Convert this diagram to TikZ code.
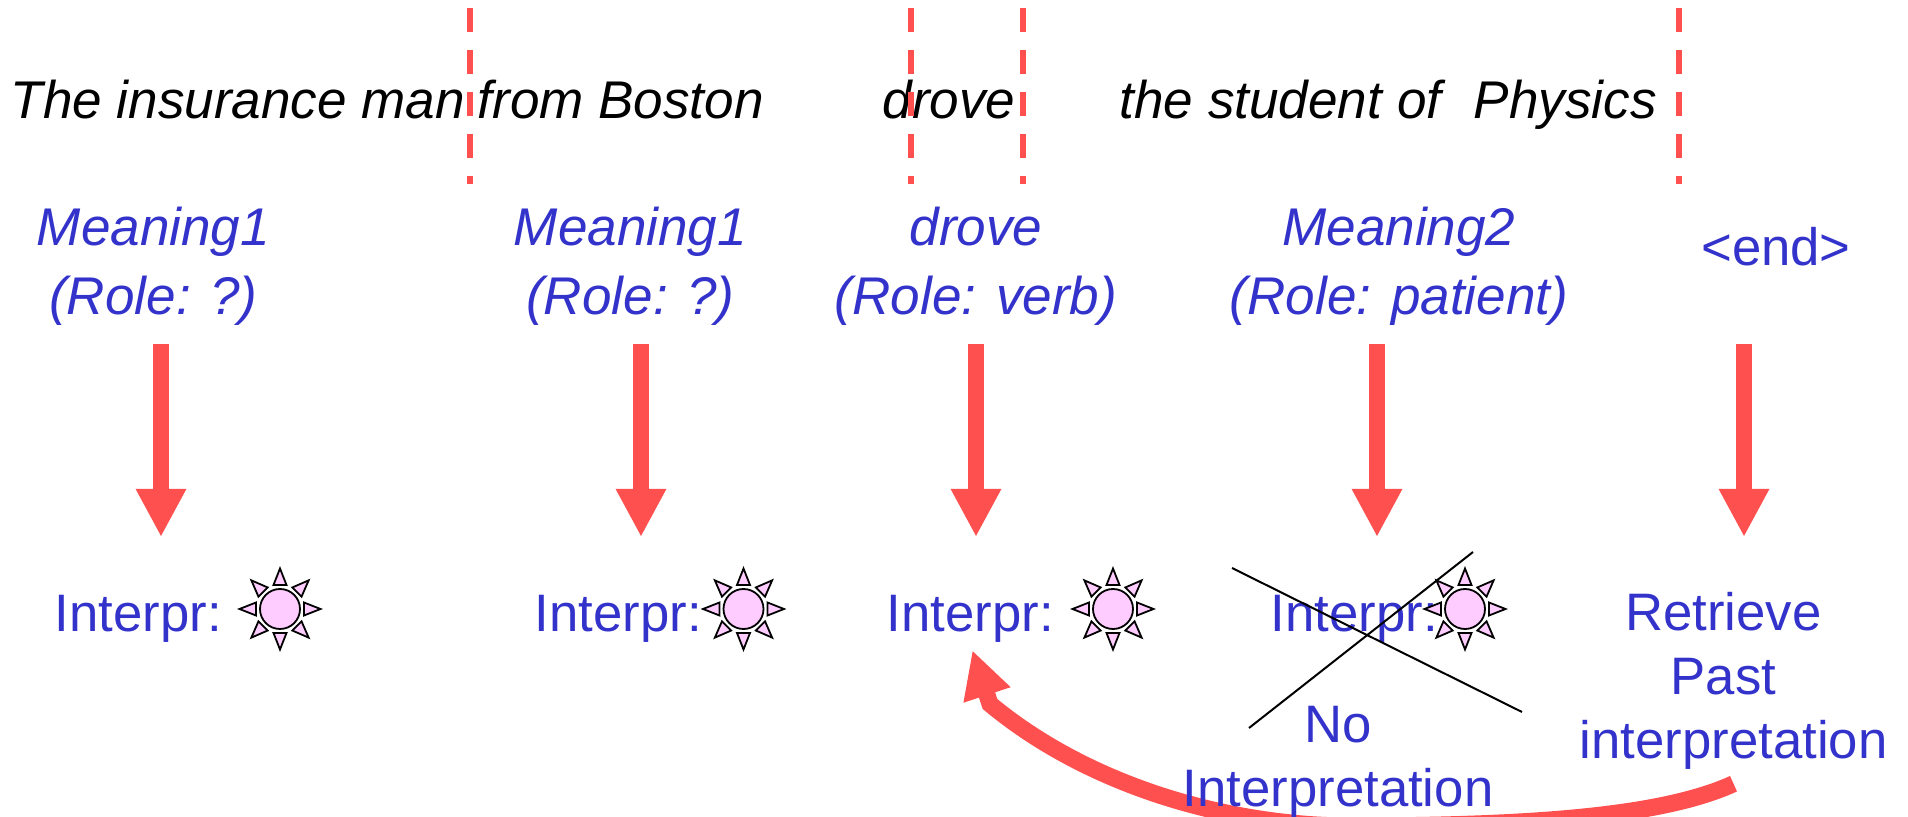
\documentclass[tikz,border=0pt]{standalone}
\usepackage{fontspec}
\setmainfont{Liberation Sans}
\usepackage{xcolor}
\usetikzlibrary{arrows.meta,positioning,calc,backgrounds}
\definecolor{redline}{HTML}{FF5050}
\definecolor{bluetext}{HTML}{3333CC}
\definecolor{sunpink}{HTML}{FFCCFF}
\tikzset{word/.style={font=\fontsize{15.1}{18.2}\selectfont\itshape,inner sep=0pt,anchor=base west},
  meaning/.style={font=\fontsize{15.1}{19.6}\selectfont\itshape,text=bluetext,align=center,inner xsep=0pt,inner ysep=0.185cm},
  interp/.style={font=\fontsize{15}{18.2}\selectfont,text=bluetext,inner sep=0pt,anchor=base west},
  note/.style={font=\fontsize{15}{18.2}\selectfont,text=bluetext,align=center,inner sep=0pt},
  cut/.style={redline,line width=0.055cm,dash pattern=on 0.24cm off 0.18cm},
  downarr/.style={redline,line width=0.16cm,-{Triangle[length=0.48cm,width=0.47cm]}},
  crossline/.style={black,line width=0.02cm},
  pics/sun/.style={code={
    \draw[fill=sunpink,line width=0.018cm] (0,0) circle (0.2);
    \foreach \a in {0,45,...,315}
      \draw[fill=sunpink,line width=0.018cm,line join=miter,rotate=\a] (0.24,-0.065) -- (0.405,0) -- (0.24,0.065) -- cycle;
  }}}
\begin{document}
\begin{tikzpicture}
\useasboundingbox (0,0) rectangle (19.08,8.17);
% sentence
\node[word] (wordA) at (0.10,6.98) {The insurance man};
\node[word] (wordB) at (4.77,6.98) {from Boston};
\node[word] (wordC) at (8.82,6.98) {drove};
\node[word] (wordD) at (11.19,6.98) {the student of\ \ \kern0.03cm Physics};
\coordinate (cutAtop) at (4.70,8.09); \coordinate (cutAbot) at (4.70,6.33);
\coordinate (cutBtop) at (9.11,8.09); \coordinate (cutBbot) at (9.11,6.33);
\coordinate (cutCtop) at (10.23,8.09); \coordinate (cutCbot) at (10.23,6.33);
\coordinate (cutDtop) at (16.79,8.09); \coordinate (cutDbot) at (16.79,6.33);
\draw[cut] (cutAtop)--(cutAbot);
\draw[cut] (cutBtop)--(cutBbot);
\draw[cut] (cutCtop)--(cutCbot);
\draw[cut] (cutDtop)--(cutDbot);
% meanings
\node[meaning] (meanA) at (1.535,5.51) {Meaning1\\(Role: ?)};
\node[meaning] (meanB) at (6.305,5.51) {Meaning1\\(Role: ?)};
\node[meaning] (meanC) at (9.76,5.51) {drove\\(Role: verb)};
\node[meaning] (meanD) at (13.99,5.51) {Meaning2\\(Role: patient)};
\node[note] (meanE) at (17.76,5.70) {<end>};
% interpretations
\node[interp] (intA) at (0.54,1.85) {Interpr:};
\node[interp] (intB) at (5.34,1.85) {Interpr:};
\node[interp] (intC) at (8.86,1.85) {Interpr:};
\node[interp] (intD) at (12.70,1.85) {Interpr:};
\pic (sunA) at (2.80,2.08) {sun};
\pic (sunB) at (7.435,2.08) {sun};
\pic (sunC) at (11.13,2.08) {sun};
\pic (sunD) at (14.65,2.08) {sun};
\node[note] (noInt) at (13.38,0.55) {No\\Interpretation};
\node[note,inner ysep=0.14cm] (retr) at (17.335,1.365) {Retrieve\kern0.2cm\\Past\kern0.2cm\\interpretation};
% arrows
\coordinate (tipA) at (1.61,2.80); \coordinate (tipB) at (6.41,2.80);
\coordinate (tipC) at (9.76,2.80); \coordinate (tipD) at (13.77,2.80);
\coordinate (tipE) at (17.44,2.80);
\draw[downarr] (meanA.south -| tipA)--(tipA);
\draw[downarr] (meanB.south -| tipB)--(tipB);
\draw[downarr] (meanC.south -| tipC)--(tipC);
\draw[downarr] (meanD.south -| tipD)--(tipD);
\draw[downarr,shorten <=0.77cm] (meanE.south -| tipE)--(tipE);
% cross
\coordinate (xa) at (12.32,2.49); \coordinate (xb) at (15.22,1.05);
\coordinate (xc) at (14.73,2.65); \coordinate (xd) at (12.49,0.89);
\draw[crossline] (xa)--(xb);
\draw[crossline] (xc)--(xd);
% back arrow
\begin{scope}[on background layer]
\draw[redline,line width=0.17cm,shorten >=0.07cm,-{Triangle[length=0.47cm,width=0.46cm]}] (retr.south) .. controls (16.65,0.02) and (15.40,-0.09) .. (13.50,-0.09) .. controls (12.30,-0.09) and (10.90,0.30) .. (9.90,1.13)--(intC.south);
\end{scope}
\end{tikzpicture}
\end{document}
